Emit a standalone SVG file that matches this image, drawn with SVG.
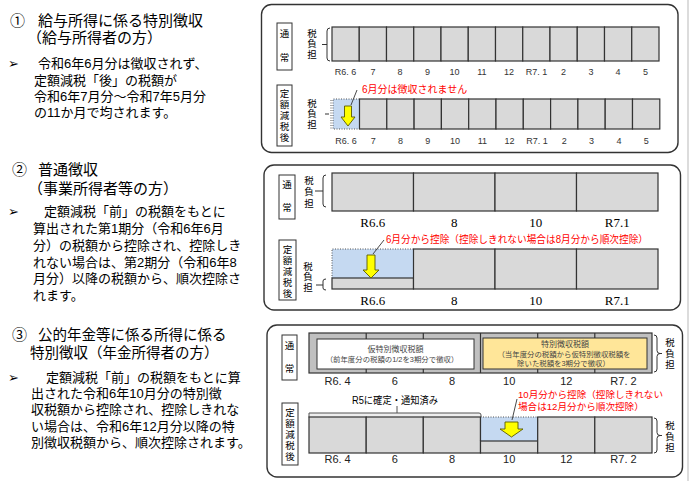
<svg xmlns="http://www.w3.org/2000/svg" width="690" height="481" viewBox="0 0 690 481">
<style>
text{font-family:'Liberation Sans','Noto Sans CJK JP',sans-serif;fill:#000}
.ttl{font-size:15px}
.body{font-size:13px}
.mk{font-family:'DejaVu Sans',sans-serif;font-size:13px}
.vt{font-family:'Noto Sans CJK JP',sans-serif;font-size:9.5px;writing-mode:vertical-rl;text-anchor:start}
.m1{font-size:9px;text-anchor:middle;fill:#333}
.m2{font-family:'Liberation Serif',serif;font-size:13px;text-anchor:middle}
.m3{font-family:'Liberation Sans',sans-serif;font-size:11px;text-anchor:middle;fill:#222}
.red{font-size:10px;fill:#ff0000}
.sm{font-size:7.4px;text-anchor:middle;fill:#444}
.panel{fill:#fff;stroke:#333;stroke-width:1.4}
.box{fill:#fff;stroke:#333;stroke-width:1}
.cell{fill:#d9d9d9;stroke:#333;stroke-width:1.2}
.blue{fill:#c5d9f1;stroke:none}
.dot{fill:none;stroke:#555;stroke-width:1;stroke-dasharray:1 1.5}
.br{fill:none;stroke:#333;stroke-width:1}
.arrow{fill:#ffff00;stroke:#5a5a00;stroke-width:0.9}
.lead{stroke:#333;stroke-width:0.9;fill:none}
</style>
<rect width="690" height="481" fill="#fff"/>
<line x1="688" y1="0" x2="688" y2="481" stroke="#d0d0d0" stroke-width="1.5"/>

<!-- Left text blocks -->
<g id="text1">
<text class="ttl" x="10" y="25.5">①</text>
<text class="ttl"><tspan x="38" y="25.5">給与所得に係る特別徴収</tspan><tspan x="27" y="42.5">（給与所得者の方）</tspan></text>
<text class="mk" x="8" y="68">➢</text>
<text class="body"><tspan x="38" y="68">令和6年6月分は徴収されず、</tspan><tspan x="34" y="84.5">定額減税「後」の税額が</tspan><tspan x="34" y="101">令和6年7月分～令和7年5月分</tspan><tspan x="34" y="117">の11か月で均されます。</tspan></text>
</g>
<g id="text2">
<text class="ttl" x="12" y="175">②</text>
<text class="ttl"><tspan x="38" y="175">普通徴収</tspan><tspan x="28" y="194">（事業所得者等の方）</tspan></text>
<text class="mk" x="8" y="216">➢</text>
<text class="body"><tspan x="44" y="216">定額減税「前」の税額をもとに</tspan><tspan x="33" y="233">算出された第1期分（令和6年6月</tspan><tspan x="33" y="249.5">分）の税額から控除され、控除しき</tspan><tspan x="33" y="266.5">れない場合は、第2期分（令和6年8</tspan><tspan x="33" y="283">月分）以降の税額から、順次控除さ</tspan><tspan x="33" y="300">れます。</tspan></text>
</g>
<g id="text3">
<text class="ttl" x="12" y="340">③</text>
<text class="ttl" style="font-size:14.5px"><tspan x="38" y="340">公的年金等に係る所得に係る</tspan><tspan x="30" y="358">特別徴収（年金所得者の方）</tspan></text>
<text class="mk" x="8" y="382">➢</text>
<text class="body"><tspan x="46" y="382">定額減税「前」の税額をもとに算</tspan><tspan x="31" y="398">出された令和6年10月分の特別徴</tspan><tspan x="31" y="414">収税額から控除され、控除しきれな</tspan><tspan x="31" y="430.5">い場合は、令和6年12月分以降の特</tspan><tspan x="31" y="446.5">別徴収税額から、順次控除されます。</tspan></text>
</g>

<!-- Panel 1 -->
<g id="panel1">
<rect class="panel" x="261.5" y="4.5" width="416.5" height="148" rx="10"/>
<rect class="box" x="277" y="23" width="15" height="47"/>
<text class="vt" x="284.5" y="28.2" style="letter-spacing:14.5px">通常</text>
<rect class="box" x="277" y="85" width="15" height="61"/>
<text class="vt" x="284.5" y="88.2" style="letter-spacing:1.5px">定額減税後</text>
<text class="vt" x="312" y="28.2" style="letter-spacing:1px">税負担</text>
<path class="br" d="M330,28 Q327,28 327,31 V58 Q327,61 330,61 M322,44.5 H327"/>
<g>
<rect class="cell" x="332" y="27" width="27.25" height="34"/>
<rect class="cell" x="359.25" y="27" width="27.25" height="34"/>
<rect class="cell" x="386.5" y="27" width="27.25" height="34"/>
<rect class="cell" x="413.75" y="27" width="27.25" height="34"/>
<rect class="cell" x="441" y="27" width="27.25" height="34"/>
<rect class="cell" x="468.25" y="27" width="27.25" height="34"/>
<rect class="cell" x="495.5" y="27" width="27.25" height="34"/>
<rect class="cell" x="522.75" y="27" width="27.25" height="34"/>
<rect class="cell" x="550" y="27" width="27.25" height="34"/>
<rect class="cell" x="577.25" y="27" width="27.25" height="34"/>
<rect class="cell" x="604.5" y="27" width="27.25" height="34"/>
<rect class="cell" x="631.75" y="27" width="27.25" height="34"/>
</g>
<g>
<text class="m1" x="345.6" y="74.5">R6. 6</text>
<text class="m1" x="372.9" y="74.5">7</text>
<text class="m1" x="400.1" y="74.5">8</text>
<text class="m1" x="427.4" y="74.5">9</text>
<text class="m1" x="454.6" y="74.5">10</text>
<text class="m1" x="481.9" y="74.5">11</text>
<text class="m1" x="509.1" y="74.5">12</text>
<text class="m1" x="536.4" y="74.5">R7. 1</text>
<text class="m1" x="563.6" y="74.5">2</text>
<text class="m1" x="590.9" y="74.5">3</text>
<text class="m1" x="618.1" y="74.5">4</text>
<text class="m1" x="645.4" y="74.5">5</text>
</g>
<text class="vt" x="312" y="98.2" style="letter-spacing:1px">税負担</text>
<path class="br" d="M325,114 H329"/>
<path class="dot" d="M331,100 V129"/>
<rect class="blue" x="333" y="99" width="26.5" height="30"/>
<path class="dot" d="M359.5,99 H333 V129 H359.5"/>
<g>
<rect class="cell" x="359.5" y="99" width="27.3" height="30"/>
<rect class="cell" x="386.8" y="99" width="27.3" height="30"/>
<rect class="cell" x="414.1" y="99" width="27.3" height="30"/>
<rect class="cell" x="441.4" y="99" width="27.3" height="30"/>
<rect class="cell" x="468.7" y="99" width="27.3" height="30"/>
<rect class="cell" x="496" y="99" width="27.3" height="30"/>
<rect class="cell" x="523.3" y="99" width="27.3" height="30"/>
<rect class="cell" x="550.6" y="99" width="27.3" height="30"/>
<rect class="cell" x="577.9" y="99" width="27.3" height="30"/>
<rect class="cell" x="605.2" y="99" width="27.3" height="30"/>
<rect class="cell" x="632.5" y="99" width="27.3" height="30"/>
</g>
<polygon class="arrow" points="344.5,106 351.5,106 351.5,117 355,117 348,126 341,117 344.5,117"/>
<text class="red" x="362" y="93">6月分は徴収されません</text>
<g>
<text class="m1" x="346" y="143.5">R6. 6</text>
<text class="m1" x="373.2" y="143.5">7</text>
<text class="m1" x="400.5" y="143.5">8</text>
<text class="m1" x="427.8" y="143.5">9</text>
<text class="m1" x="455" y="143.5">10</text>
<text class="m1" x="482.3" y="143.5">11</text>
<text class="m1" x="509.6" y="143.5">12</text>
<text class="m1" x="537" y="143.5">R7. 1</text>
<text class="m1" x="564.2" y="143.5">2</text>
<text class="m1" x="591.5" y="143.5">3</text>
<text class="m1" x="618.9" y="143.5">4</text>
<text class="m1" x="646.2" y="143.5">5</text>
</g>
</g>

<!-- Panel 2 -->
<g id="panel2">
<rect class="panel" x="264" y="165" width="416.5" height="145" rx="10"/>
<rect class="box" x="279" y="175" width="16" height="44"/>
<text class="vt" x="287" y="179.2" style="letter-spacing:13.5px">通常</text>
<rect class="box" x="279" y="240" width="17" height="60"/>
<text class="vt" x="287.5" y="244.2" style="letter-spacing:1.5px">定額減税後</text>
<text class="vt" x="309" y="175.2" style="letter-spacing:2px">税負担</text>
<path class="br" d="M326,175 Q323,175 323,178 V204 Q323,207 326,207 M315,191 H323"/>
<rect class="cell" x="332" y="173" width="81.5" height="38"/>
<rect class="cell" x="413.5" y="173" width="81.5" height="38"/>
<rect class="cell" x="495" y="173" width="81.5" height="38"/>
<rect class="cell" x="576.5" y="173" width="81.5" height="38"/>
<text class="m2" x="372.75" y="226.5">R6.6</text>
<text class="m2" x="454.25" y="226.5">8</text>
<text class="m2" x="535.75" y="226.5">10</text>
<text class="m2" x="617.25" y="226.5">R7.1</text>
<text class="vt" x="308" y="261.2" style="letter-spacing:1px">税負担</text>
<path class="br" d="M326,279 Q323,279 323,281 V288 Q323,290 326,290 M316,285 H323"/>
<rect class="blue" x="332" y="249" width="81.5" height="29"/>
<path class="dot" d="M413.5,249 H332 V278"/>
<rect class="cell" x="332" y="278" width="81.5" height="11"/>
<rect class="cell" x="413.5" y="249" width="81.5" height="40"/>
<rect class="cell" x="495" y="249" width="81.5" height="40"/>
<rect class="cell" x="576.5" y="249" width="81.5" height="40"/>
<polygon class="arrow" points="367,255 375,255 375,270 379,270 371,278 363,270 367,270"/>
<text class="red" x="386" y="243" textLength="262" lengthAdjust="spacingAndGlyphs">6月分から控除（控除しきれない場合は8月分から順次控除）</text>
<text class="m2" x="372.75" y="304.5">R6.6</text>
<text class="m2" x="454.25" y="304.5">8</text>
<text class="m2" x="535.75" y="304.5">10</text>
<text class="m2" x="617.25" y="304.5">R7.1</text>
</g>

<!-- Panel 3 -->
<g id="panel3">
<rect class="panel" x="267" y="325" width="415.5" height="152" rx="10"/>
<rect class="box" x="282" y="335" width="15" height="45"/>
<text class="vt" x="289.5" y="340.2" style="letter-spacing:13.5px">通常</text>
<rect class="box" x="282" y="403" width="16" height="62"/>
<text class="vt" x="290" y="407.2" style="letter-spacing:1.5px">定額減税後</text>
<rect x="309" y="333" width="343" height="40" fill="#c0c0c0" stroke="#333" stroke-width="1.2"/>
<path d="M366.2,333 V373 M423.3,333 V373 M480.5,333 V373 M537.7,333 V373 M594.8,333 V373" stroke="#333" stroke-width="1.2"/>
<rect x="317" y="339" width="157" height="30" fill="#fff" stroke="#333" stroke-width="1"/>
<text class="sm"><tspan x="395.5" y="352" style="font-size:8px">仮特別徴収税額</tspan><tspan x="392" y="362">（前年度分の税額の1/2を3期分で徴収）</tspan></text>
<rect x="483" y="338" width="164" height="31" fill="#ffe699" stroke="#333" stroke-width="1"/>
<text class="sm"><tspan x="565" y="347" style="font-size:8px">特別徴収税額</tspan><tspan x="564" y="357">（当年度分の税額から仮特別徴収税額を</tspan><tspan x="563.5" y="366">除いた税額を3期分で徴収）</tspan></text>
<path class="br" d="M654,335 Q657,335 657,338 V350.5 Q657,353.5 660,353.5 H662 M660,353.5 Q657,353.5 657,356.5 V369 Q657,372 654,372"/>
<text class="vt" x="670" y="337.2" style="letter-spacing:1.5px">税負担</text>
<text class="m3" x="337.6" y="385">R6. 4</text>
<text class="m3" x="394.8" y="385">6</text>
<text class="m3" x="452" y="385">8</text>
<text class="m3" x="509.2" y="385">10</text>
<text class="m3" x="566.3" y="385">12</text>
<text class="m3" x="623.5" y="385">R7. 2</text>
<text x="395" y="404" style="font-size:10px;text-anchor:middle" textLength="86" lengthAdjust="spacingAndGlyphs">R5に確定・通知済み</text>
<path d="M309,417.5 V413 H479 Q481,413 481,415 V417.5" fill="#eee" stroke="#555" stroke-width="1"/>
<rect class="cell" x="309" y="417" width="57.2" height="36"/>
<rect class="cell" x="366.2" y="417" width="57.1" height="36"/>
<rect class="cell" x="423.3" y="417" width="57.2" height="36"/>
<rect class="blue" x="480.5" y="417" width="57.2" height="24"/>
<path class="dot" d="M480.5,417 H537.7"/>
<path d="M480.5,417 V441 M537.7,417 V441" stroke="#333" stroke-width="1.2"/>
<rect class="cell" x="480.5" y="441" width="57.2" height="12"/>
<rect class="cell" x="537.7" y="417" width="57.1" height="36"/>
<rect class="cell" x="594.8" y="417" width="57.2" height="36"/>
<polygon class="arrow" points="505,422 518,422 518,429 523,429 511.5,437 500,429 505,429"/>
<text class="red" style="font-size:9.6px"><tspan x="518" y="398">10月分から控除（控除しきれない</tspan><tspan x="518" y="410">場合は12月分から順次控除）</tspan></text>
<path class="br" d="M654,418 Q657,418 657,421 V432.5 Q657,435.5 660,435.5 H662 M660,435.5 Q657,435.5 657,438.5 V450 Q657,453 654,453"/>
<text class="vt" x="670" y="420.7" style="letter-spacing:1.5px">税負担</text>
<text class="m3" x="337.6" y="463">R6. 4</text>
<text class="m3" x="394.8" y="463">6</text>
<text class="m3" x="452" y="463">8</text>
<text class="m3" x="509.2" y="463">10</text>
<text class="m3" x="566.3" y="463">12</text>
<text class="m3" x="623.5" y="463">R7. 2</text>
</g>

<!-- Connectors (leader lines) -->
<g id="connectors">
<path class="lead" d="M357,90 L351,105"/>
<path d="M397,406 V413" stroke="#555" stroke-width="1"/>
<path class="lead" d="M384,240 L373,254"/>
<path class="lead" d="M517,399 L512,420"/>
</g>
</svg>
